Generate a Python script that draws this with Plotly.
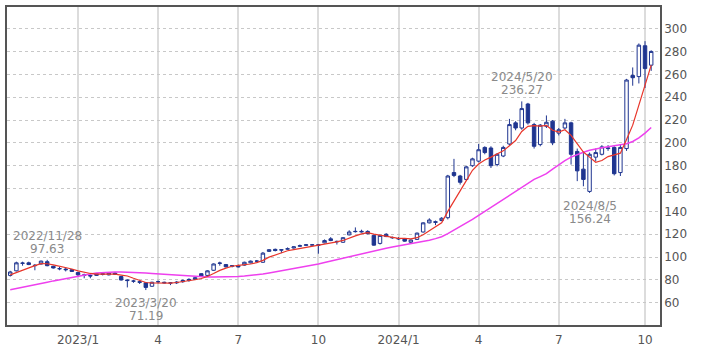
import pandas as pd
import plotly.graph_objects as go

start_week = "2022-10-17"

opens = [
    84, 88, 94.5, 95, 92.5, 94, 96, 92, 90, 89.5,
    89, 86.5, 84.5, 84, 84, 85.5, 84.5, 86, 83, 80,
    79, 78.5, 77.5, 74.5, 78.5, 78, 77.5, 77.5, 78.5, 79.5,
    80.5, 85.5, 84, 88.5, 94.5, 93.5, 92, 92.5, 93, 95,
    96.5, 95.5, 105, 106.8, 106.5, 107, 108, 109.5, 110.3, 110.5,
    110.8, 112.5, 116, 113.8, 113, 119.5, 122.3, 122, 122.5, 119,
    112, 120, 117.2, 116.3, 116, 113, 115.5, 122, 130, 131,
    132, 134.5, 174, 171, 168, 180, 184, 196, 195.5, 181,
    188.5, 199, 217.5, 213, 234, 216, 198.5, 214.5, 219, 208.5,
    213, 217.5, 192.5, 177, 157.5, 187.5, 190, 195, 196, 174,
    195, 259, 258, 285, 268,
]
highs = [
    88, 96, 96, 96, 94, 97, 97.63, 92.5, 91.5, 91,
    89.5, 87, 85.5, 85, 86, 86.5, 86.5, 87, 83.5, 80.5,
    80, 79.5, 78, 78.5, 79.5, 78.5, 78, 79, 80.5, 81.5,
    82.5, 86, 88.5, 94.5, 96, 94, 93, 93.5, 96, 97,
    97.5, 104.5, 107, 107.5, 107, 108.5, 109.5, 111, 111.5, 111.5,
    111.5, 115.5, 117.5, 114.5, 117.5, 123.5, 126, 124, 123.5, 119.5,
    119.5, 121, 118, 117.5, 116.5, 115.5, 121.5, 130.5, 134, 132,
    135, 172, 186, 172, 180, 187, 199, 197, 197, 191,
    197.5, 221, 219, 236.27, 235, 217.5, 216.5, 224, 220, 213,
    221, 218.5, 195, 191, 191.5, 195, 198, 198, 197, 199,
    256, 266, 287, 289, 281,
]
lows = [
    83, 87.5, 92.5, 93, 88.5, 93.5, 92, 90, 88.5, 87.5,
    87, 83.5, 81.5, 81.5, 83.5, 84, 84, 84.5, 79.5, 73.5,
    77.5, 76.5, 71.19, 74, 77, 77, 75.5, 76.5, 77.5, 78.5,
    80, 82.8, 83.5, 88, 92.5, 91, 91, 91, 92.5, 94.5,
    95.5, 95, 104.5, 105, 103.5, 106.5, 107.5, 109, 110, 110,
    103, 112, 114, 111, 112.5, 119, 121.5, 121.5, 120, 110,
    111, 117.5, 116, 115, 113.5, 111.5, 115, 121.5, 129.5, 128,
    131.5, 133, 170, 163.5, 167, 179, 183, 190, 178, 179.5,
    187.5, 198, 211, 211.5, 216, 195, 197, 213, 198, 206.5,
    212, 181, 166.5, 162, 156.24, 184, 189, 193, 171.5, 171,
    193, 250, 252, 248, 263,
]
closes = [
    87, 95, 94.8, 93.5, 92.8, 96.5, 92.5, 90.5, 89.8, 89,
    87.5, 84.5, 84, 83.5, 85.5, 85, 86, 85, 80, 79.5,
    79, 78, 73.5, 78, 78.5, 77.5, 77.3, 78, 79.5, 80.5,
    82, 83.5, 88, 94, 94.8, 91.5, 92.5, 91.5, 95.5, 96.5,
    96.5, 103.5, 106.5, 105.8, 106.2, 107.3, 109, 110, 110.8, 110.8,
    110.5, 114.5, 114.5, 113.5, 117, 122, 122.5, 122.5, 120.5, 110.5,
    119, 118, 117, 116, 114, 115, 121, 130, 132.5, 130.5,
    134, 171, 171.5, 165.5, 179, 186, 194, 191.5, 180, 190,
    196, 216, 213, 230, 217.5, 197, 215.5, 218, 200, 211.5,
    217.5, 190, 175.5, 168, 190, 191.5, 196.5, 195.5, 173, 196,
    255, 257, 285.5, 265, 280,
]
ma_short = [
    84.5, 86.5, 88.5, 91, 92.6, 94.3, 94.2, 93.2, 92.2, 91.2,
    89.6, 88, 86.8, 85.7, 85.2, 85, 85.2, 85.2, 84.3, 83.5,
    81.5, 79.8, 77.8, 77.4, 77.3, 77.2, 77.2, 77.8, 78.4, 79.2,
    80.2, 81.3, 83, 85.6, 88.4, 90.4, 92, 92.8, 93.3, 94,
    95.2, 97.2, 100, 102, 103.8, 105.6, 106.6, 107.5, 108.6, 109.6,
    110.4, 111.6, 112.6, 113.4, 114.6, 116.8, 118.6, 120.4, 121.4, 120.2,
    119.2, 118.2, 117.2, 116.4, 116.4, 116, 117, 119.6, 123, 126.5,
    130, 140, 149.5, 158, 167, 176, 181.5, 185, 187.5, 190,
    193, 197.5, 202, 210, 214.5, 215, 214.6, 215.2, 211, 209.5,
    211.5, 206.5, 199, 192, 187.5, 183, 184.5, 188, 189.5, 191,
    203, 215.5, 233, 251.5, 268,
]
ma_long = [
    71.5, 72.5, 73.5, 74.5, 75.5, 76.7, 78, 79.2, 80.3, 81.4,
    82.5, 83.5, 84.5, 85.3, 86, 86.5, 86.8, 87, 87, 86.9,
    86.7, 86.4, 86, 85.6, 85.2, 84.8, 84.4, 84, 83.6, 83.3,
    83, 82.8, 82.6, 82.5, 82.5, 82.6, 82.8, 83.1, 83.5, 84,
    84.6, 85.3, 86.2, 87.1, 88, 88.9, 89.8, 90.8, 91.8, 92.9,
    94, 95.3, 96.6, 97.9, 99.2, 100.5, 101.8, 103.2, 104.5, 105.6,
    106.8, 107.8, 108.8, 109.8, 110.7, 111.6, 112.5, 113.6, 114.8, 116.2,
    117.8, 120.5, 123.5, 126.5, 129.5, 133, 136.5, 140, 143.5, 147,
    150.5, 154, 157.5, 161, 164.5, 168, 170.5, 173, 177, 181,
    184.5, 187.5, 190, 191.8, 193.5, 194.8, 195.8, 196.6, 197.3, 198.2,
    199.3, 201.2, 204.3, 208.5, 213.5,
]

tick_dates = ["2023-01-02", "2023-04-03", "2023-07-03", "2023-10-02",
              "2024-01-01", "2024-04-01", "2024-07-01", "2024-10-07"]
tick_labels = ["2023/1", "4", "7", "10", "2024/1", "4", "7", "10"]
y_ticks = [60, 80, 100, 120, 140, 160, 180, 200, 220, 240, 260, 280, 300]

mark_dates = ["2022-11-28", "2023-03-20", "2024-05-20", "2024-08-05"]
mark_kinds = ["high", "low", "high", "low"]

dates = pd.date_range(start=start_week, periods=len(closes), freq="W-MON")

NAVY = "#1f3590"
FONT = "DejaVu Sans"

fig = go.Figure()
fig.add_trace(go.Candlestick(
    x=dates, open=opens, high=highs, low=lows, close=closes,
    increasing=dict(line=dict(color=NAVY, width=1), fillcolor="white"),
    decreasing=dict(line=dict(color=NAVY, width=1), fillcolor=NAVY),
    whiskerwidth=0, showlegend=False, hoverinfo="skip",
))
fig.add_trace(go.Scatter(x=dates, y=ma_long, mode="lines",
                         line=dict(color="#ee40ee", width=1.5),
                         showlegend=False, hoverinfo="skip"))
fig.add_trace(go.Scatter(x=dates, y=ma_short, mode="lines",
                         line=dict(color="#e8352a", width=1.2),
                         showlegend=False, hoverinfo="skip"))

date_idx = {d.strftime("%Y-%m-%d"): i for i, d in enumerate(dates)}
for md, kind in zip(mark_dates, mark_kinds):
    i = date_idx[md]
    d = dates[i]
    val = highs[i] if kind == "high" else lows[i]
    label = f"{d.year}/{d.month}/{d.day}"
    if kind == "high":
        shifts = [24, 11]
    else:
        shifts = [-13, -26]
    for txt, sh in zip([label, f"{val:.2f}"], shifts):
        fig.add_annotation(x=d, y=val, xref="x", yref="y", text=txt,
                           showarrow=False, yanchor="middle", xanchor="center",
                           yshift=sh, font=dict(family=FONT, size=12, color="#8a8a8a"))

fig.update_layout(
    width=709, height=354,
    margin=dict(l=5, r=49, t=5, b=29),
    paper_bgcolor="white", plot_bgcolor="white",
    font=dict(family=FONT, size=12, color="#555555"),
    showlegend=False, boxgap=0.2,
)
fig.update_xaxes(
    type="date", range=["2022-10-13 08:00", "2024-10-24"],
    tickmode="array", tickvals=tick_dates, ticktext=tick_labels,
    showgrid=True, gridcolor="#dcdcdc", gridwidth=1.5,
    showline=True, linecolor="#555555", linewidth=1.5, mirror=True,
    ticks="", ticklabelstandoff=3, rangeslider=dict(visible=False),
    tickfont=dict(family=FONT, size=12, color="#555555"),
)
fig.update_yaxes(
    side="right", range=[40.6, 318.9],
    tickmode="array", tickvals=y_ticks,
    showgrid=True, gridcolor="#c8c8c8", gridwidth=1, griddash="dot",
    zeroline=False,
    showline=True, linecolor="#555555", linewidth=1.5, mirror=True,
    ticks="", tickfont=dict(family=FONT, size=12, color="#555555"),
)

fig.write_html("out.html")
